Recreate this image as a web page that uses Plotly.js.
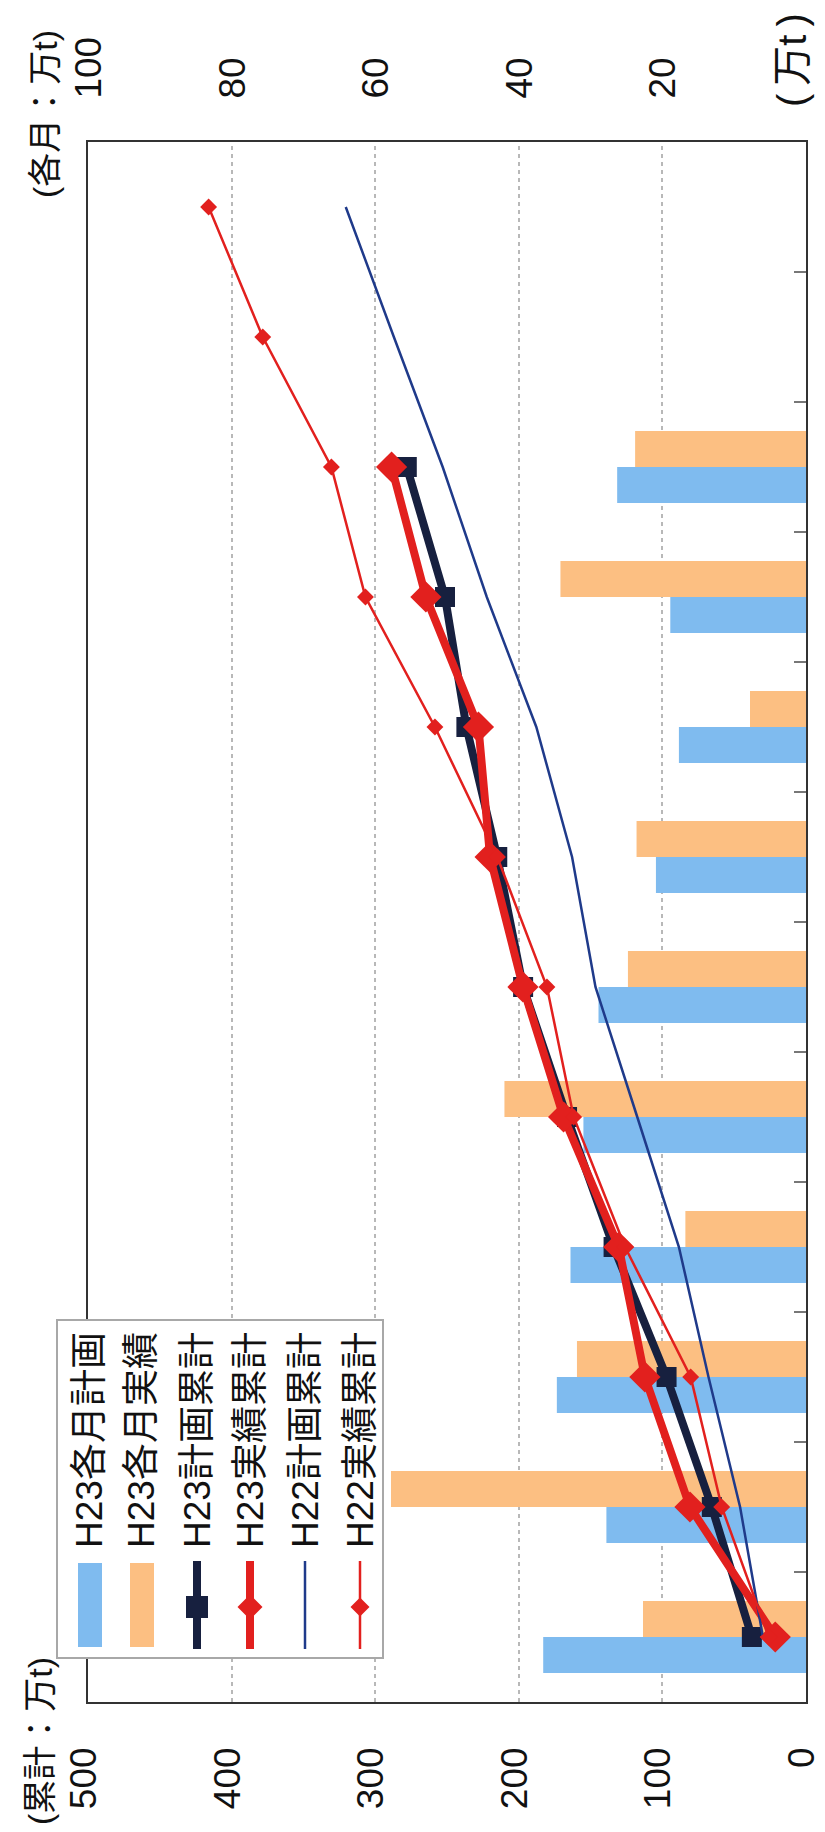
<!DOCTYPE html>
<html><head><meta charset="utf-8">
<script src="https://cdn.plot.ly/plotly-3.0.1.min.js"></script>
<style>
html,body{margin:0;padding:0;width:825px;height:1832px;overflow:hidden;background:#fff;}
#chart{position:absolute;left:0;top:0;width:1832px;height:825px;transform-origin:0 0;transform:translate(0px,1832px) rotate(-90deg);}
</style></head><body><div id="chart"></div>
<script>
const months = ['4月','5月','6月','7月','8月','9月','10月','11月','12月','1月','2月','3月'];
const monthsH23 = months.slice(0, 10);
const h23PlanMonthly   = [36.6, 27.8, 34.7, 32.8, 31.0, 28.9, 20.9, 17.7, 18.9, 26.3];
const h23ActualMonthly = [22.7, 57.8, 31.9, 16.8, 42.0, 24.8, 23.6, 7.8, 34.2, 23.8];
const h23PlanCum   = [37.7, 65.6, 97.1, 134, 166.4, 197, 215, 236.5, 251.4, 278];
const h23ActualCum = [21.4, 80.8, 112.2, 130.4, 168.8, 197.1, 220, 228.1, 264.7, 288.6];
const h22PlanCum   = [30, 45.9, 67.9, 88.5, 117.5, 146.6, 162.9, 187.8, 222.3, 253, 287, 320.5];
const h22ActualCum = [26, 58.7, 80.3, 126, 161.8, 180.4, 215, 258.4, 306.8, 330.5, 378.3, 416];
const cumTicks = [0, 100, 200, 300, 400, 500];
const monthlyTicks = [20, 40, 60, 80, 100];
const names = ['H23各月計画', 'H23各月実績', 'H23計画累計', 'H23実績累計', 'H22計画累計', 'H22実績累計'];

const BLUE = '#7fbbef', ORANGE = '#fcbf82', NAVY = '#17203f', RED = '#e2201e', BLUE2 = '#1f3a8a';

const traces = [
  {type:'bar', x:monthsH23, y:h23PlanMonthly, name:names[0], marker:{color:BLUE}, yaxis:'y'},
  {type:'bar', x:monthsH23, y:h23ActualMonthly, name:names[1], marker:{color:ORANGE}, yaxis:'y'},
  {type:'scatter', mode:'lines+markers', x:monthsH23, y:h23PlanCum, name:names[2],
   line:{color:NAVY, width:8}, marker:{symbol:'square', size:20, color:NAVY}, yaxis:'y2'},
  {type:'scatter', mode:'lines+markers', x:monthsH23, y:h23ActualCum, name:names[3],
   line:{color:RED, width:8}, marker:{symbol:'diamond', size:24, color:RED}, yaxis:'y2'},
  {type:'scatter', mode:'lines', x:months, y:h22PlanCum, name:names[4],
   line:{color:BLUE2, width:2.5}, yaxis:'y2'},
  {type:'scatter', mode:'lines+markers', x:months, y:h22ActualCum, name:names[5],
   line:{color:RED, width:2.5}, marker:{symbol:'diamond', size:13, color:RED}, yaxis:'y2'}
];

// ---- plot geometry (landscape, before the page rotates it) ----
const W = 1832, H = 825;
const M = {l:130, r:142, t:88, b:19};
const PW = W - M.l - M.r, PH = H - M.t - M.b;
const px = v => (v - M.l) / PW;          // landscape pixel -> paper x
const py = v => (M.t + PH - v) / PH;     // landscape pixel -> paper y

const FONT = '"Liberation Sans", Arial, "Noto Sans CJK JP", sans-serif';

// ---- hand-built legend (box, swatches, labels) ----
const legendBox = {x0:174, x1:512, y0:57, y1:383};
const rowY = [90, 142, 197, 250, 305, 360];
const swX0 = 183, swX1 = 271, swMid = 225, textX = 282;
const shapes = [];
const P = (x, y) => px(x) + ',' + py(y);
shapes.push({type:'rect', xref:'paper', yref:'paper', layer:'above',
  x0:px(legendBox.x0), x1:px(legendBox.x1), y0:py(legendBox.y1), y1:py(legendBox.y0),
  fillcolor:'#ffffff', line:{color:'#a8a8a8', width:2}});
[[BLUE, rowY[0]], [ORANGE, rowY[1]]].forEach(([c, y]) => {
  shapes.push({type:'rect', xref:'paper', yref:'paper', layer:'above',
    x0:px(swX0 + 2), x1:px(swX1 - 2), y0:py(y + 12), y1:py(y - 12), fillcolor:c, line:{width:0}});
});
[[NAVY, 8, rowY[2]], [RED, 8, rowY[3]], [BLUE2, 2.5, rowY[4]], [RED, 2.5, rowY[5]]].forEach(([c, w, y]) => {
  shapes.push({type:'line', xref:'paper', yref:'paper', layer:'above',
    x0:px(swX0), x1:px(swX1), y0:py(y), y1:py(y), line:{color:c, width:w}});
});
shapes.push({type:'rect', xref:'paper', yref:'paper', layer:'above',
  x0:px(swMid - 11), x1:px(swMid + 11), y0:py(rowY[2] + 11), y1:py(rowY[2] - 11),
  fillcolor:NAVY, line:{width:0}});
[[rowY[3], 12.5], [rowY[5], 9.5]].forEach(([y, r]) => {
  shapes.push({type:'path', xref:'paper', yref:'paper', layer:'above',
    path:'M' + P(swMid - r, y) + 'L' + P(swMid, y - r) + 'L' + P(swMid + r, y) + 'L' + P(swMid, y + r) + 'Z',
    fillcolor:RED, line:{width:0}});
});

const annotations = names.map((n, i) => ({
  xref:'paper', yref:'paper', x:px(textX), y:py(rowY[i]), xanchor:'left', yanchor:'middle',
  text:n, showarrow:false, font:{size:37, family:FONT, color:'#111'}
}));
annotations.push(
  {xref:'paper', yref:'paper', x:px(5), y:py(40), xanchor:'left', yanchor:'middle',
   text:'(累計：万t)', showarrow:false, font:{size:34, family:FONT, color:'#111'}},
  {xref:'paper', yref:'paper', x:px(1632), y:py(45), xanchor:'left', yanchor:'middle',
   text:'(各月：万t)', showarrow:false, font:{size:34, family:FONT, color:'#111'}},
  {xref:'paper', yref:'paper', x:px(1772), y:py(792), xanchor:'center', yanchor:'middle',
   text:'(\u2009万t\u2009)', showarrow:false, font:{size:40, family:FONT, color:'#111'}}
);

const layout = {
  width:W, height:H,
  margin:{l:M.l, r:M.r, t:M.t, b:M.b, pad:0},
  paper_bgcolor:'#fff', plot_bgcolor:'#fff',
  font:{family:FONT, color:'#111', size:36},
  barmode:'group', bargap:0.446, bargroupgap:0,
  showlegend:false,
  xaxis:{type:'category', categoryorder:'array', categoryarray:months, range:[-0.5, 11.5],
         showticklabels:false, ticks:'inside', ticklen:12, tickwidth:1.5, tickcolor:'#777',
         tickson:'boundaries', showline:true, linecolor:'#333', linewidth:2, mirror:true,
         showgrid:false, fixedrange:true},
  yaxis:{range:[0, 100], side:'right', tickvals:monthlyTicks, showgrid:false, zeroline:false,
         showline:true, linecolor:'#333', linewidth:2, ticks:'', ticklabelstandoff:34,
         ticklabeloverflow:'allow',
         tickfont:{size:37, family:FONT, color:'#111'}, fixedrange:true},
  yaxis2:{range:[0, 500], side:'left', overlaying:'y', tickvals:cumTicks, showgrid:true,
          gridcolor:'#b8b8b8', griddash:'4px,4px', gridwidth:2, zeroline:false, showline:true,
          linecolor:'#333', linewidth:2, ticks:'', ticklabelstandoff:36, ticklabelshift:-5,
          ticklabeloverflow:'allow',
          tickfont:{size:37, family:FONT, color:'#111'}, fixedrange:true},
  shapes:shapes,
  annotations:annotations
};

Plotly.newPlot('chart', traces, layout, {displayModeBar:false, staticPlot:true});
</script></body></html>
